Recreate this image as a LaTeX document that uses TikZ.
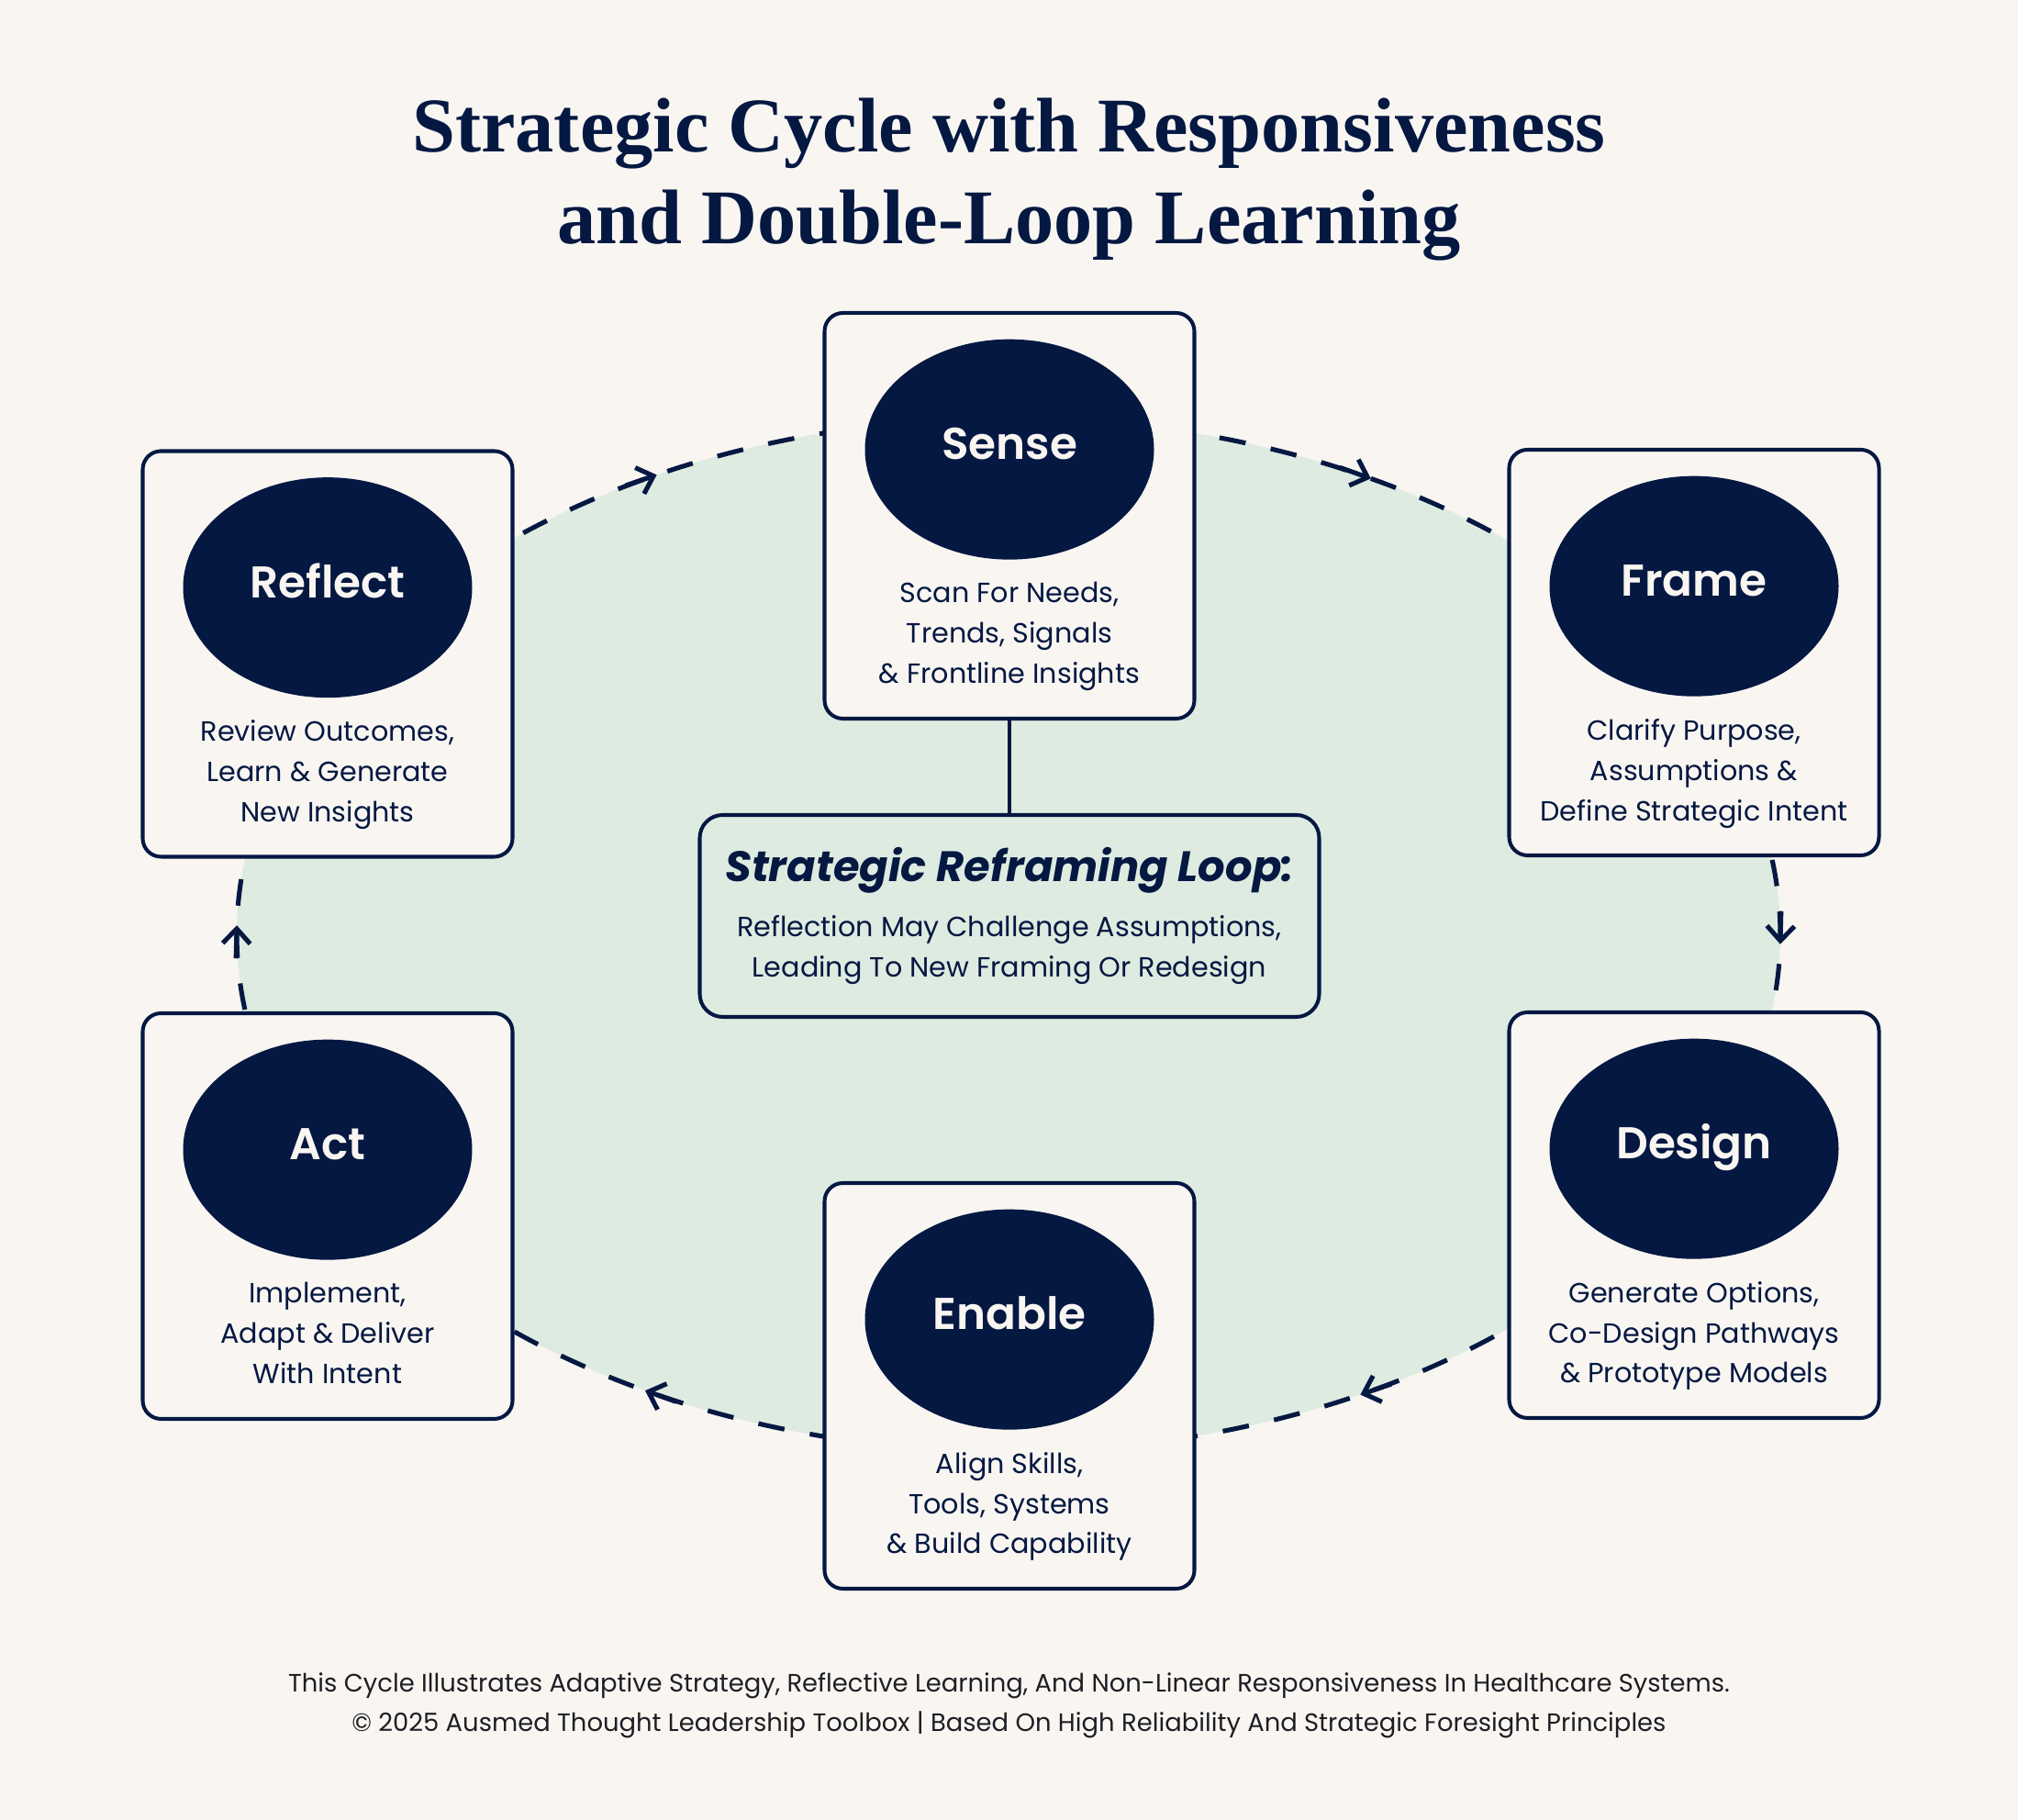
\documentclass[tikz,border=0pt]{standalone}
\usepackage{fontspec}
\setmainfont{Poppins}
\newfontfamily\badgefont{Poppins SemiBold}
\newfontfamily\titlefont{Liberation Serif}
\usetikzlibrary{positioning,shapes.geometric,arrows.meta,decorations.markings}
\definecolor{navy}{RGB}{4,24,66}
\definecolor{paper}{RGB}{249,246,242}
\definecolor{mint}{RGB}{222,235,224}
\definecolor{ink}{RGB}{30,30,36}
\tikzset{
  % Specifications for style of nodes:
  base/.style = {
    rectangle,
    rounded corners=2mm,
    draw=navy,
    line width=1.15pt,
    text centered
  },
  stage/.style = {
    base,
    fill=paper,
    minimum width=4.03cm,
    minimum height=4.42cm
  },
  badge/.style = {
    ellipse,
    fill=navy,
    text=paper,
    inner sep=0pt,
    minimum width=3.15cm,
    minimum height=2.4cm,
    text height=0.38cm,
    text depth=0.16cm,
    node distance=0.3cm,
    font=\badgefont\fontsize{13.8}{16}\selectfont
  },
  blurb/.style = {
    align=center,
    text=navy,
    inner sep=0pt,
    node distance=0.23cm,
    font=\fontsize{8.6}{12.5}\selectfont
  },
  reframe/.style = {
    base,
    rounded corners=2.5mm,
    fill=mint,
    align=center,
    text=navy,
    minimum width=6.75cm,
    minimum height=2.2cm,
    font=\fontsize{8.6}{12.5}\selectfont
  },
  % dashed loop with an arrow half way
  loopline/.style = {
    draw=navy,
    line width=1.45pt,
    dash pattern=on 0.29cm off 0.28cm,
    postaction={decorate, decoration={markings,
      mark=at position 0.5 with {\draw[navy, solid, line width=1.45pt,
        -{Straight Barb[length=1.6mm, width=3mm]}] (-0.36,0) -- (0,0);}}}
  },
  link/.style = {
    draw=navy,
    line width=1.15pt
  },
}

\begin{document}
\begin{tikzpicture}
    \fill[paper] (0,0) rectangle (21.99,19.83);
    \useasboundingbox (0,0) rectangle (21.99,19.83);

    % Title
    \node[align=center, text=navy, font=\titlefont\bfseries\fontsize{24}{28.45}\selectfont]
      (title) at (10.995,17.875) {Strategic Cycle with Responsiveness\\ and Double-Loop Learning};

    % Shaded loop behind the stages
    \node[ellipse, fill=mint, inner sep=0pt, minimum width=16.82cm, minimum height=11.26cm]
      (loop) at (10.99,9.645) {};

    % Dashed arcs, clockwise from stage to stage
    \draw[loopline] (loop.center) ++(138:8.41cm and 5.63cm) arc[start angle=138, end angle=98,  x radius=8.41cm, y radius=5.63cm];
    \draw[loopline] (loop.center) ++(82:8.41cm and 5.63cm)  arc[start angle=82,  end angle=40,  x radius=8.41cm, y radius=5.63cm];
    \draw[loopline] (loop.center) ++(14:8.41cm and 5.63cm)  arc[start angle=14,  end angle=-16, x radius=8.41cm, y radius=5.63cm];
    \draw[loopline] (loop.center) ++(-42:8.41cm and 5.63cm) arc[start angle=-42, end angle=-82, x radius=8.41cm, y radius=5.63cm];
    \draw[loopline] (loop.center) ++(-99:8.41cm and 5.63cm) arc[start angle=-99, end angle=-139, x radius=8.41cm, y radius=5.63cm];
    \draw[loopline] (loop.center) ++(194:8.41cm and 5.63cm) arc[start angle=194, end angle=164, x radius=8.41cm, y radius=5.63cm];

    % Specification of nodes (position, etc.)
    \node[stage] (sense)   at (11.00,14.21) {};
    \node[stage] (frame)   at (18.46,12.72) {};
    \node[stage] (design)  at (18.46,6.59)  {};
    \node[stage] (enable)  at (11.00,4.73)  {};
    \node[stage] (act)     at (3.57,6.58)   {};
    \node[stage] (reflect) at (3.57,12.705) {};

    \node[badge, below=of sense.north]   (senseoval)   {Sense};
    \node[badge, below=of frame.north]   (frameoval)   {Frame};
    \node[badge, below=of design.north]  (designoval)  {Design};
    \node[badge, below=of enable.north]  (enableoval)  {Enable};
    \node[badge, below=of act.north]     (actoval)     {Act};
    \node[badge, below=of reflect.north] (reflectoval) {Reflect};

    \node[blurb, below=of senseoval]   (sensetext)   {Scan For Needs,\\ Trends, Signals\\ \& Frontline Insights};
    \node[blurb, below=of frameoval]   (frametext)   {Clarify Purpose,\\ Assumptions \&\\ Define Strategic Intent};
    \node[blurb, below=of designoval]  (designtext)  {Generate Options,\\ Co-Design Pathways\\ \& Prototype Models};
    \node[blurb, below=of enableoval]  (enabletext)  {Align Skills,\\ Tools, Systems\\ \& Build Capability};
    \node[blurb, below=of actoval]     (acttext)     {Implement,\\ Adapt \& Deliver\\ With Intent};
    \node[blurb, below=of reflectoval] (reflecttext) {Review Outcomes,\\ Learn \& Generate\\ New Insights};

    % Reframing loop in the middle
    \node[reframe] (reloop) at (11.00,9.85)
      {{\bfseries\itshape\fontsize{13.2}{16}\selectfont Strategic Reframing Loop:}\\[4.5pt]
       Reflection May Challenge Assumptions,\\ Leading To New Framing Or Redesign};
    \draw[link] (sense) -- (reloop);

    % Footer
    \node[align=center, text=ink, font=\fontsize{7.8}{12.2}\selectfont] (footer) at (10.995,1.245)
      {This Cycle Illustrates Adaptive Strategy, Reflective Learning, And Non-Linear Responsiveness In Healthcare Systems.\\
       © 2025 Ausmed Thought Leadership Toolbox | Based On High Reliability And Strategic Foresight Principles};
\end{tikzpicture}
\end{document}
